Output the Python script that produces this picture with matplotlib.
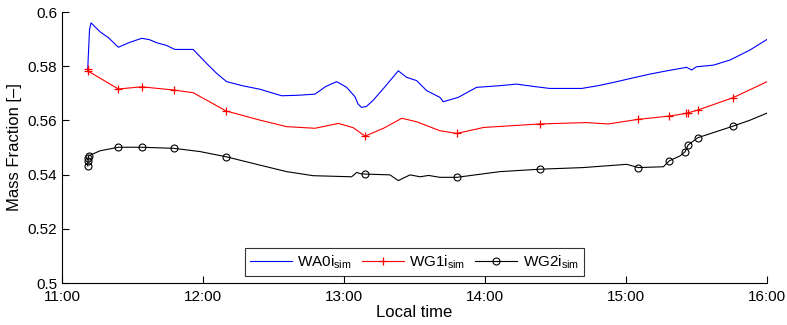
import matplotlib
matplotlib.use("Agg")
import matplotlib.pyplot as plt

plt.rcParams['font.family'] = ['Liberation Sans', 'DejaVu Sans']
plt.rcParams['mathtext.fontset'] = 'custom'
plt.rcParams['mathtext.rm'] = 'Liberation Sans'
plt.rcParams['mathtext.it'] = 'Liberation Sans:italic'

# ---- data (time in decimal hours, value = mass fraction) ----
wa0_t = [11.182, 11.195, 11.206, 11.27, 11.33, 11.40, 11.48, 11.565, 11.62, 11.67,
         11.74, 11.80, 11.93, 12.026, 12.10, 12.168, 12.28, 12.404, 12.48, 12.558,
         12.68, 12.794, 12.87, 12.948, 13.019, 13.078, 13.10, 13.125, 13.16, 13.208,
         13.29, 13.385, 13.444, 13.515, 13.586, 13.68, 13.704, 13.81, 13.94, 14.10,
         14.224, 14.35, 14.46, 14.686, 14.80, 14.934, 15.05, 15.17, 15.30, 15.43,
         15.466, 15.50, 15.62, 15.738, 15.88, 16.0]
wa0_v = [0.5786, 0.5935, 0.5960, 0.5927, 0.5905, 0.5870, 0.5888, 0.5903, 0.5898, 0.5887,
         0.5877, 0.5862, 0.5862, 0.5810, 0.5772, 0.5743, 0.5728, 0.5715, 0.5703, 0.5691,
         0.5693, 0.5697, 0.5725, 0.5743, 0.5722, 0.5687, 0.5660, 0.5648, 0.5652, 0.5675,
         0.5724, 0.5783, 0.5759, 0.5747, 0.5710, 0.5685, 0.5669, 0.5685, 0.5722, 0.5728,
         0.5734, 0.5725, 0.5718, 0.5718, 0.5728, 0.5743, 0.5757, 0.5771, 0.5784, 0.5796,
         0.5786, 0.5798, 0.5804, 0.5823, 0.5860, 0.5899]

wg1_t = [11.182, 11.185, 11.40, 11.565, 11.797, 11.931, 12.163, 12.404, 12.593, 12.794,
         12.96, 13.066, 13.149, 13.28, 13.41, 13.515, 13.68, 13.80, 13.99, 14.39,
         14.72, 14.875, 15.087, 15.307, 15.426, 15.44, 15.508, 15.76, 16.0]
wg1_v = [0.5790, 0.5782, 0.5716, 0.5724, 0.5712, 0.5702, 0.5635, 0.5601, 0.5577, 0.5571,
         0.5589, 0.5573, 0.5542, 0.5571, 0.5608, 0.5595, 0.5562, 0.5552, 0.5574, 0.5587,
         0.5592, 0.5587, 0.5604, 0.5616, 0.5626, 0.5628, 0.5638, 0.5684, 0.5743]
wg1_marks = [0, 1, 2, 3, 4, 6, 12, 17, 19, 22, 23, 24, 25, 26, 27]

wg2_t = [11.182, 11.184, 11.186, 11.188, 11.27, 11.40, 11.565, 11.794, 11.979, 12.163,
         12.404, 12.593, 12.782, 13.054, 13.09, 13.12, 13.149, 13.326, 13.385, 13.468,
         13.54, 13.60, 13.68, 13.80, 14.106, 14.39, 14.697, 15.005, 15.087, 15.265,
         15.307, 15.383, 15.42, 15.44, 15.508, 15.76, 15.88, 16.0]
wg2_v = [0.5432, 0.5451, 0.5460, 0.5469, 0.5488, 0.5501, 0.5501, 0.5497, 0.5485, 0.5466,
         0.5435, 0.5411, 0.5396, 0.5392, 0.5408, 0.5403, 0.5402, 0.5399, 0.5378, 0.5399,
         0.5392, 0.5397, 0.5390, 0.5390, 0.5411, 0.5420, 0.5426, 0.5438, 0.5426, 0.5429,
         0.5451, 0.5469, 0.5485, 0.5509, 0.5536, 0.5579, 0.5601, 0.5627]
wg2_marks = [0, 1, 2, 3, 5, 6, 7, 9, 16, 23, 25, 28, 30, 32, 33, 34, 35]

x_ticks = [11, 12, 13, 14, 15, 16]
x_labels = ['11:00', '12:00', '13:00', '14:00', '15:00', '16:00']
y_ticks = [0.5, 0.52, 0.54, 0.56, 0.58, 0.6]
y_labels = ['0.5', '0.52', '0.54', '0.56', '0.58', '0.6']

fig = plt.figure(figsize=(7.87, 3.25), dpi=100)
ax = fig.add_axes([0.0788, 0.1292, 0.8958, 0.8338])

ax.plot(wa0_t, wa0_v, color='#0000ff', lw=0.8, label=r'WA0i$_{\mathregular{sim}}$')
ax.plot(wg1_t, wg1_v, color='#ff0000', lw=0.8, marker='+', markersize=6,
        markeredgewidth=0.9, markevery=wg1_marks, label=r'WG1i$_{\mathregular{sim}}$')
ax.plot(wg2_t, wg2_v, color='black', lw=0.8, marker='o', markersize=5,
        markerfacecolor='none', markeredgewidth=0.8, markevery=wg2_marks,
        label=r'WG2i$_{\mathregular{sim}}$')

ax.set_xlim(11, 16)
ax.set_ylim(0.5, 0.6)
ax.set_xticks(x_ticks)
ax.set_xticklabels(x_labels)
ax.set_yticks(y_ticks)
ax.set_yticklabels(y_labels)
ax.tick_params(direction='in', length=5, width=0.8, labelsize=11, colors='black')
ax.tick_params(axis='x', pad=5)
ax.spines['top'].set_visible(False)
ax.spines['right'].set_visible(False)
for s in ['left', 'bottom']:
    ax.spines[s].set_linewidth(0.8)

ax.set_xlabel('Local time', fontsize=12, labelpad=1)
ax.set_ylabel('Mass Fraction [–]', fontsize=12, labelpad=4)

leg = ax.legend(loc='lower center', ncol=3, frameon=True, fancybox=False,
                edgecolor='black', fontsize=11, handlelength=2.75,
                borderaxespad=0.45, columnspacing=0.65, handletextpad=0.35,
                borderpad=0.35)
leg.get_frame().set_linewidth(0.8)

fig.savefig('out.png', dpi=100)
